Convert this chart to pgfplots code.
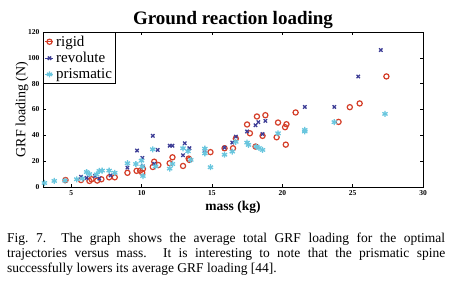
\documentclass[border=0pt]{standalone}
\usepackage{fontspec}
\setmainfont{Liberation Serif}
\usepackage{pgfplots}
\pgfplotsset{compat=1.18}
\definecolor{cred}{RGB}{212,62,40}
\definecolor{cblue}{RGB}{62,62,150}
\definecolor{ccyan}{RGB}{105,198,222}
\begin{document}
\begin{tikzpicture}[x=1pt,y=1pt]
\path[use as bounding box] (0,0) rectangle (452,293);
\begin{axis}[
  at={(43pt,106pt)}, anchor=south west,
  scale only axis, width=380pt, height=155pt,
  xmin=3, xmax=30, ymin=0, ymax=120,
  xtick={5,10,15,20,25,30}, ytick={0,20,40,60,80,100,120},
  tick align=inside, tick pos=both,
  major tick length=3pt,
  axis line style={line width=0.8pt}, tick style={line width=0.6pt, black},
  tick label style={font=\fontsize{7.5}{8}\selectfont\bfseries},
  /pgf/number format/assume math mode=true,
  title={Ground reaction loading},
  title style={font=\fontsize{19}{20}\selectfont\bfseries, at={(axis description cs:0.5,1.012)}, anchor=base},
  xlabel={mass (kg)},
  xlabel style={font=\fontsize{13.5}{14}\selectfont\bfseries, at={(axis description cs:0.5,-0.13)}, anchor=center},
  ylabel={GRF loading (N)},
  ylabel style={font=\fontsize{14}{15}\selectfont, at={(axis description cs:-0.055,0.5)}, anchor=center, rotate=0},
  legend style={at={(0,1)}, anchor=north west, draw=black, line width=0.6pt,
    font=\fontsize{15}{16}\selectfont, inner xsep=1pt, inner ysep=1.5pt, row sep=0.5pt,
    legend cell align=left},
  legend image code/.code={\path (0,0) -- (0.3cm,0); \draw plot coordinates {(0.16cm,0cm)};},
]
\addplot[only marks, mark=o, mark size=2.6pt, color=cred, line width=1.2pt] coordinates {
(4.6,5.4)(5.7,5.4)(6.3,4.7)(6.45,6)(6.85,5)(7.15,6)(7.7,7.5)(8.1,7.5)(9.0,11)(9.65,12.5)(9.9,12.7)(10.05,11)(10.1,14)(10.8,15.5)(10.9,19.6)(11.2,17)(12.0,18.4)(12.2,23)(12.95,16.3)(13.35,22)(13.4,21)(14.9,27)(15.9,30)(16.5,30)(16.7,37.5)(17.5,48.4)(17.7,41.6)(18.1,31.3)(18.2,54.6)(18.6,39.6)(18.8,55.6)(19.6,38.5)(19.7,49.9)(20.2,46.3)(20.3,48.6)(20.25,32.8)(20.95,57.7)(24.0,50.4)(24.8,61.8)(25.5,64.7)(27.4,85.6)
};
\addlegendentry{rigid}
\addplot[only marks, mark=x, mark size=2.4pt, color=cblue, line width=1.3pt] coordinates {
(5.7,8)(6.1,7)(6.7,8.5)(7.0,6.5)(7.8,9)(9.0,15)(9.68,28.2)(10.06,22.5)(10.1,16)(10.8,39.6)(10.9,18)(11.15,28.7)(12.0,32)(12.2,32)(12.95,24.6)(13.07,33.9)(13.4,30)(14.5,28)(15.9,30.5)(16.45,34.4)(16.7,39)(17.5,43)(18.1,47.8)(18.3,50.2)(18.6,41)(18.8,51.2)(21.6,62)(23.7,62)(25.4,85.6)(27.0,106)
};
\addlegendentry{revolute}
\addplot[only marks, mark=asterisk, mark size=3pt, color=ccyan, line width=1.3pt] coordinates {
(3.1,3.1)(3.8,4.7)(4.56,4.9)(5.4,6)(5.8,6.5)(6.1,11.6)(6.3,10)(6.8,9.8)(7.0,12.4)(7.2,12.7)(7.7,12.7)(8.1,11)(9.0,18.4)(9.6,17.8)(10.0,20.4)(10.1,8.5)(10.05,15.8)(10.8,29.2)(11.0,16)(12.0,14.2)(12.2,17.8)(12.95,30)(13.3,27.7)(13.5,21)(14.5,29.7)(14.5,26)(14.9,15.3)(15.9,25)(16.45,27.4)(16.7,35)(17.5,34.4)(17.6,32.6)(18.15,31.3)(18.35,30.2)(18.6,28.7)(19.7,41.6)(21.6,44.2)(21.6,43)(23.7,50.2)(27.3,56.6)
};
\addlegendentry{prismatic}
\end{axis}
\node[anchor=north west, inner sep=0pt, text width=438pt, align=justify,
  font=\fontsize{13.5}{14.7}\selectfont] at (7,60)
  {Fig.~7.\ \ The graph shows the average total GRF loading for the optimal\linebreak
   trajectories versus mass. It is interesting to note that the prismatic spine\linebreak
   successfully lowers its average GRF loading [44].};
\end{tikzpicture}
\end{document}
